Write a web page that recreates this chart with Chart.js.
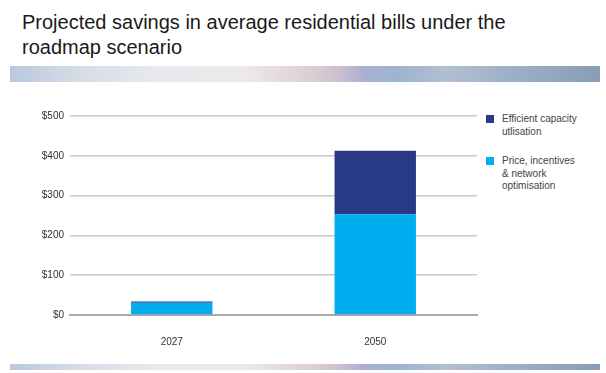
<!DOCTYPE html>
<html>
<head>
<meta charset="utf-8">
<script src="https://cdn.jsdelivr.net/npm/chart.js@4"></script>
<style>
    body { margin: 0; width: 606px; height: 373px; background: #fff; position: relative; overflow: hidden; font-family: "Liberation Sans", Arial, sans-serif; }
    #title { position: absolute; left: 22px; top: 10px; font-size: 20px; line-height: 25px; color: #1a1a1a; }
    .band { position: absolute; left: 10px; width: 590px; background: linear-gradient(90deg, #b9c9dd 0%, #d6dde8 12%, #e7e9ee 25%, #ece9ea 40%, #dccbd3 52%, #cdbdcf 56%, #a9b0d2 60%, #9db4cf 66%, #b3bfcf 74%, #9fb1c8 84%, #8a9db6 100%); }
    #band-top { top: 66px; height: 16px; }
    #band-bottom { top: 364px; height: 6px; }
    #chart-box { position: absolute; left: 0; top: 100px; width: 478px; height: 251px; }
    #legend { position: absolute; left: 486px; top: 113px; font-size: 10px; line-height: 12.5px; color: #444; }
    .item { position: relative; padding-left: 16px; margin-bottom: 17px; }
    .swatch { position: absolute; left: 0; top: 2px; width: 8px; height: 8px; }
</style>
</head>
<body>
<div id="title">Projected savings in average residential bills under the<br>roadmap scenario</div>
<div class="band" id="band-top"></div>
<div id="chart-box"><canvas id="savings-chart"></canvas></div>
<div id="legend"></div>
<div class="band" id="band-bottom"></div>
<script>
// Chart data
const years = ['2027', '2050'];
const priceIncentives = [31, 253];
const capacityUtilisation = [3, 160];
const yTicks = [0, 100, 200, 300, 400, 500];

const seriesNames = ['Price, incentives\n& network\noptimisation', 'Efficient capacity\nutlisation'];
const seriesColors = ['#00aeef', '#283a85'];

const ctx = document.getElementById('savings-chart');

new Chart(ctx, {
    type: 'bar',
    data: {
        labels: years,
        datasets: [{
            label: seriesNames[0],
            data: priceIncentives,
            backgroundColor: seriesColors[0],
            categoryPercentage: 1,
            barPercentage: 0.4
        }, {
            label: seriesNames[1],
            data: capacityUtilisation,
            backgroundColor: seriesColors[1],
            categoryPercentage: 1,
            barPercentage: 0.4
        }]
    },
    options: {
        responsive: true,
        maintainAspectRatio: false,
        animation: false,
        layout: {
            padding: { top: 16, right: 1 }
        },
        plugins: {
            legend: { display: false },
            tooltip: { enabled: false }
        },
        scales: {
            x: {
                stacked: true,
                grid: { display: false },
                border: { display: true, color: '#aaaaaa', width: 2 },
                ticks: {
                    color: '#333',
                    font: { family: 'Liberation Sans', size: 10 },
                    padding: 13
                },
                afterFit: function(scale) { scale.height = 36; }
            },
            y: {
                stacked: true,
                min: 0,
                max: 500,
                afterBuildTicks: function(scale) {
                    scale.ticks = yTicks.map(v => ({ value: v }));
                },
                grid: {
                    color: '#cacaca',
                    lineWidth: 1.5,
                    drawTicks: false
                },
                border: { display: false },
                ticks: {
                    color: '#333',
                    font: { family: 'Liberation Sans', size: 10 },
                    padding: 6,
                    callback: function(value) {
                        return '$' + value;
                    }
                },
                afterFit: function(scale) { scale.width = 70; }
            }
        }
    }
});

// Legend drawn as HTML so labels wrap like the reference
const legend = document.getElementById('legend');
[1, 0].forEach(i => {
    const item = document.createElement('div');
    item.className = 'item';
    item.innerHTML = '<span class="swatch" style="background:' + seriesColors[i] + '"></span>' +
        seriesNames[i].split('\n').join('<br>');
    legend.appendChild(item);
});
</script>
</body>
</html>
